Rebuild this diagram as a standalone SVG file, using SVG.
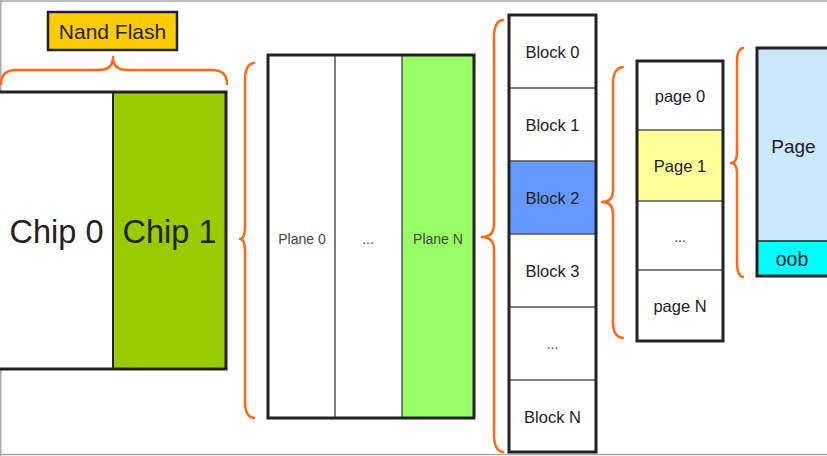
<svg xmlns="http://www.w3.org/2000/svg" width="827" height="456" viewBox="0 0 827 456">
<style>
text{font-family:"Liberation Sans",Arial,sans-serif;text-anchor:middle;dominant-baseline:central;fill:#222}
.outer{fill:none;stroke:#222;stroke-width:3}
.div{stroke:#555;stroke-width:1.5;fill:none}
.brace{fill:none;stroke:#FF6A1A;stroke-width:2.5;stroke-linecap:round;stroke-linejoin:round}
.blk{font-size:16.5px}
.pl{font-size:14px;fill:#444}
</style>
<rect x="0" y="0" width="827" height="456" fill="#fff"/>
<g id="frame" fill="none" stroke="#aaa" stroke-width="1.5">
<line x1="0" y1="1" x2="827" y2="1"/>
<line x1="0.75" y1="0" x2="0.75" y2="456"/>
<line x1="0" y1="454.5" x2="827" y2="454.5"/>
</g>
<g id="nand-flash">
<rect x="48" y="12" width="129" height="38" fill="#FFCC00" stroke="#222" stroke-width="2.5"/>
<text x="112.5" y="31" font-size="21">Nand Flash</text>
</g>
<g id="chips">
<rect x="0" y="92" width="113" height="277" fill="#fff"/>
<rect x="113" y="92" width="113" height="277" fill="#99CC00"/>
<line class="div" x1="113" y1="92" x2="113" y2="369" style="stroke:#222;stroke-width:2"/>
<rect class="outer" x="-2" y="92" width="228" height="277"/>
<text x="56.5" y="232" font-size="32.5">Chip 0</text>
<text x="169.5" y="232" font-size="32.5">Chip 1</text>
</g>
<g id="planes">
<rect x="268" y="55" width="67" height="363" fill="#fff"/>
<rect x="335" y="55" width="67" height="363" fill="#fff"/>
<rect x="402" y="55" width="72" height="363" fill="#99FF66"/>
<line class="div" x1="335" y1="55" x2="335" y2="418"/>
<line class="div" x1="402" y1="55" x2="402" y2="418"/>
<rect class="outer" x="268" y="55" width="206" height="363"/>
<text class="pl" x="302" y="239">Plane 0</text>
<text class="pl" x="368" y="239">...</text>
<text class="pl" x="438" y="239">Plane N</text>
</g>
<g id="blocks">
<rect x="509" y="161" width="87" height="73" fill="#6699FF"/>
<line class="div" x1="509" y1="88" x2="596" y2="88"/>
<line class="div" x1="509" y1="161" x2="596" y2="161"/>
<line class="div" x1="509" y1="234" x2="596" y2="234"/>
<line class="div" x1="509" y1="307" x2="596" y2="307"/>
<line class="div" x1="509" y1="380" x2="596" y2="380"/>
<rect class="outer" x="509" y="15" width="87" height="437"/>
<text class="blk" x="552.5" y="52">Block 0</text>
<text class="blk" x="552.5" y="125">Block 1</text>
<text class="blk" x="552.5" y="198">Block 2</text>
<text class="blk" x="552.5" y="271">Block 3</text>
<text class="pl" x="552.5" y="344">...</text>
<text class="blk" x="552.5" y="417">Block N</text>
</g>
<g id="pages">
<rect x="637" y="130" width="86" height="71" fill="#FFFF99"/>
<line class="div" x1="637" y1="130" x2="723" y2="130"/>
<line class="div" x1="637" y1="201" x2="723" y2="201"/>
<line class="div" x1="637" y1="270" x2="723" y2="270"/>
<rect class="outer" x="637" y="61" width="86" height="280"/>
<text class="blk" x="680" y="96">page 0</text>
<text class="blk" x="680" y="166">Page 1</text>
<text class="pl" x="680" y="237">...</text>
<text class="blk" x="680" y="306">page N</text>
</g>
<g id="page-detail">
<rect x="757" y="48" width="74" height="193" fill="#CCE8FF"/>
<rect x="757" y="241" width="74" height="35" fill="#00FFFF"/>
<line class="div" x1="757" y1="241" x2="831" y2="241" style="stroke:#222"/>
<rect class="outer" x="757" y="48" width="74" height="228"/>
<text x="793.5" y="146" font-size="19">Page</text>
<text x="792" y="259" font-size="19.5">oob</text>
</g>
<g id="connectors">
<path class="brace" d="M1,84 Q1,70 16,70 L99,70 Q113,70 113,57 Q113,70 127,70 L212,70 Q227,70 227,84"/>
<path class="brace" d="M254,63 Q245,64 245,80 L245,226 Q245,239 240,239 Q245,239 245,252 L245,402 Q245,417 254,418"/>
<path class="brace" d="M503,20 Q494,21 494,37 L494,224 Q494,237 482,237 Q494,237 494,250 L494,434 Q494,451 503,452"/>
<path class="brace" d="M623,67 Q613,68 613,84 L613,190 Q613,202 602,202 Q613,202 613,214 L613,322 Q613,337 623,338"/>
<path class="brace" d="M743,48 Q737,49 737,62 L737,152 Q737,163 731,163 Q737,163 737,174 L737,262 Q737,276 743,277"/>
</g>
</svg>
